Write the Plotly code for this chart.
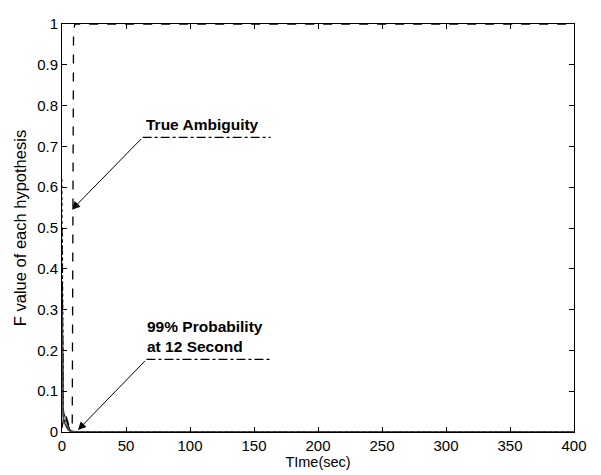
import plotly.graph_objects as go

# time axis (sec)
time_s = [0, 0.5, 1, 1.5, 2, 2.5, 3, 4, 5, 6, 7, 8, 9, 10, 11, 12, 15, 20, 30, 50, 100, 200, 300, 400]

# F value of each hypothesis
h_true = [0.01, 0.02, 0.03, 0.04, 0.045, 0.045, 0.04, 0.03, 0.02, 0.01, 0.01, 0.02, 0.98, 1.0, 1.0, 1.0, 1.0, 1.0, 1.0, 1.0, 1.0, 1.0, 1.0, 1.0]
h_2 = [0.37, 0.06, 0.05, 0.045, 0.04, 0.035, 0.03, 0.02, 0.012, 0.006, 0.003, 0.002, 0.001, 0.0005, 0, 0, 0, 0, 0, 0, 0, 0, 0, 0]
h_3 = [0.62, 0.05, 0.045, 0.04, 0.035, 0.03, 0.025, 0.015, 0.008, 0.004, 0.002, 0.001, 0, 0, 0, 0, 0, 0, 0, 0, 0, 0, 0, 0]
h_4 = [0.5, 0.04, 0.035, 0.03, 0.025, 0.02, 0.015, 0.01, 0.005, 0.002, 0.001, 0, 0, 0, 0, 0, 0, 0, 0, 0, 0, 0, 0, 0]
h_5 = [0.2, 0.07, 0.06, 0.05, 0.04, 0.03, 0.02, 0.01, 0.005, 0.002, 0.001, 0, 0, 0, 0, 0, 0, 0, 0, 0, 0, 0, 0, 0]
h_6 = [0.3, 0.03, 0.028, 0.025, 0.02, 0.018, 0.015, 0.01, 0.006, 0.003, 0.001, 0, 0, 0, 0, 0, 0, 0, 0, 0, 0, 0, 0, 0]

series = [
    ("H1 (true)", h_true, "dash", "black"),
    ("H2", h_2, "solid", "black"),
    ("H3", h_3, "dot", "#555555"),
    ("H4", h_4, "dashdot", "black"),
    ("H5", h_5, "dot", "#888888"),
    ("H6", h_6, "solid", "#444444"),
]

x_ticks = [0, 50, 100, 150, 200, 250, 300, 350, 400]
y_ticks = [0, 0.1, 0.2, 0.3, 0.4, 0.5, 0.6, 0.7, 0.8, 0.9, 1]
y_tick_labels = ["0", "0.1", "0.2", "0.3", "0.4", "0.5", "0.6", "0.7", "0.8", "0.9", "1"]

FONT = "Liberation Sans, Arial, sans-serif"

fig = go.Figure()
for name, vals, dash, col in series:
    fig.add_trace(go.Scatter(x=time_s, y=vals, mode="lines", name=name,
                             line=dict(color=col, width=1.3, dash=dash)))

# annotation underlines
fig.add_shape(type="line", xref="x", yref="y", x0=63, x1=163, y0=0.722, y1=0.722,
              line=dict(color="black", width=1.2, dash="dashdot"))
fig.add_shape(type="line", xref="x", yref="y", x0=66, x1=164, y0=0.178, y1=0.178,
              line=dict(color="black", width=1.2, dash="dashdot"))

fig.add_annotation(x=64, y=0.727, xref="x", yref="y", text="<b>True Ambiguity</b>",
                   showarrow=False, xanchor="left", yanchor="bottom",
                   font=dict(family=FONT, size=15.5, color="black"))
fig.add_annotation(x=7.8, y=0.545, ax=63, ay=0.722, xref="x", yref="y", axref="x", ayref="y",
                   text="", showarrow=True, arrowhead=2, arrowsize=1.6, arrowwidth=1, arrowcolor="black")

fig.add_annotation(x=65, y=0.183, xref="x", yref="y",
                   text="<b>99% Probability<br>at 12 Second</b>",
                   showarrow=False, xanchor="left", yanchor="bottom", align="left",
                   font=dict(family=FONT, size=15.5, color="black"))
fig.add_annotation(x=12.5, y=0.005, ax=66, ay=0.178, xref="x", yref="y", axref="x", ayref="y",
                   text="", showarrow=True, arrowhead=2, arrowsize=1.6, arrowwidth=1, arrowcolor="black")

fig.update_layout(
    width=593, height=467,
    margin=dict(l=54, r=27, t=7, b=43),
    paper_bgcolor="white", plot_bgcolor="white",
    showlegend=False,
    font=dict(family=FONT, size=15, color="black"),
)
fig.update_xaxes(range=[0, 400], tickvals=x_ticks, ticktext=[str(v) for v in x_ticks],
                 ticks="inside", ticklen=5, tickcolor="black",
                 showline=True, linecolor="black", linewidth=1, mirror="ticks",
                 showgrid=False, zeroline=False, ticklabeloverflow="allow",
                 title=dict(text="TIme(sec)", standoff=3, font=dict(size=14.5, color="black")),
                 tickfont=dict(size=15))
fig.update_yaxes(range=[0, 1], tickvals=y_ticks, ticktext=y_tick_labels,
                 ticks="inside", ticklen=5, tickcolor="black",
                 showline=True, linecolor="black", linewidth=1, mirror="ticks",
                 showgrid=False, zeroline=False, ticklabeloverflow="allow",
                 title=dict(text="F value of each hypothesis", standoff=6, font=dict(size=16.5, color="black")),
                 tickfont=dict(size=15))

fig.write_html("out.html")
